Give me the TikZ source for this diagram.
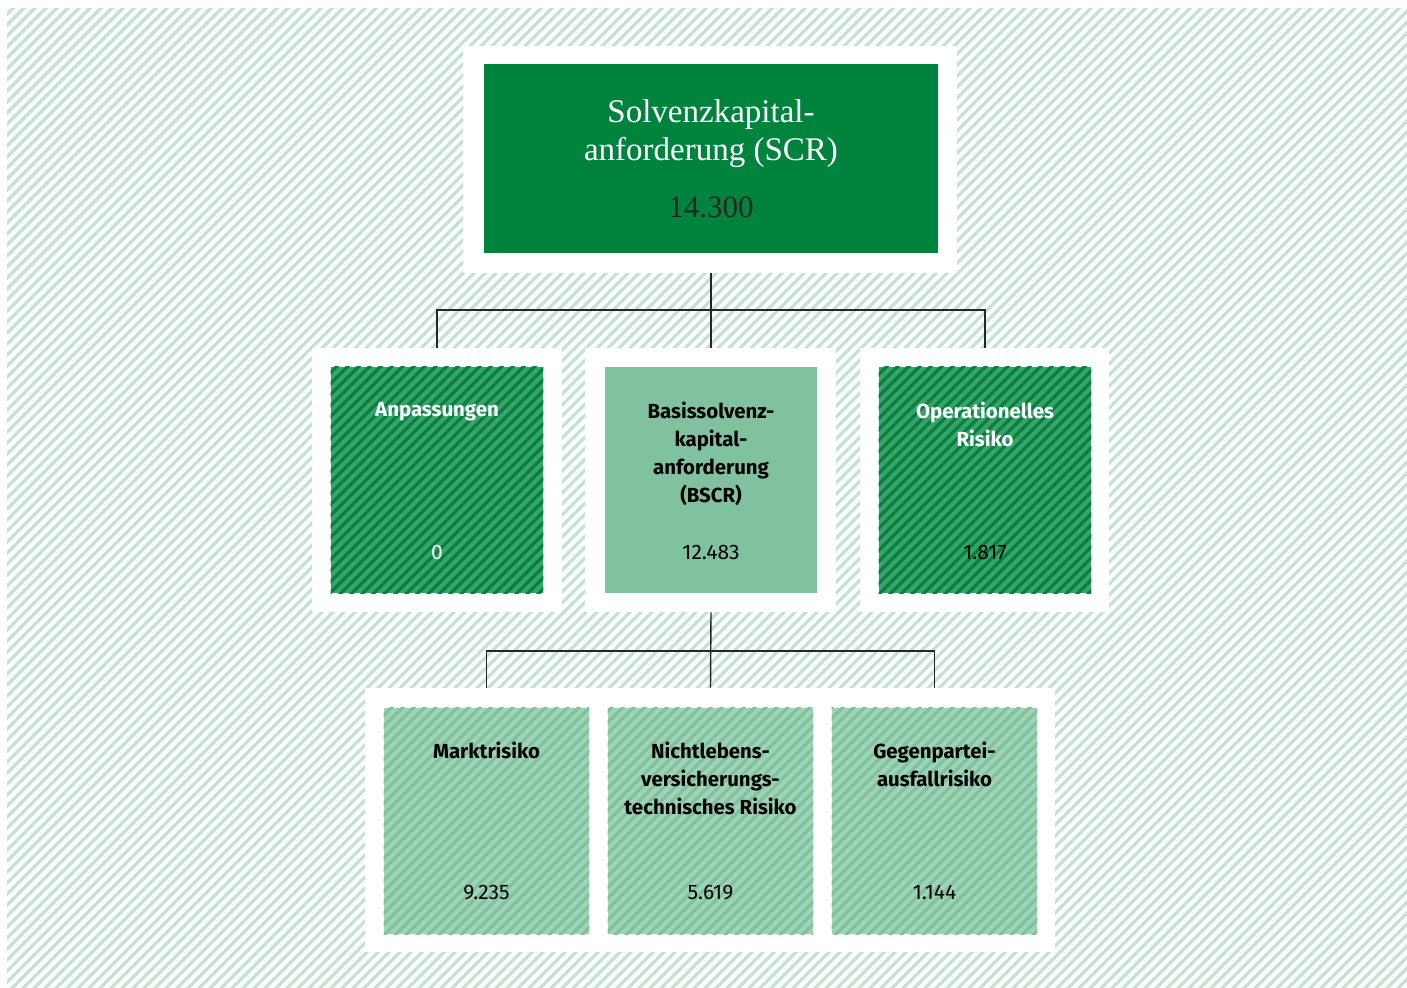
\documentclass[tikz,border=0pt]{standalone}
\usepackage{fontspec}
\setmainfont{Liberation Serif}
\setsansfont{Fira Sans}
\usepackage{tikz}
\usetikzlibrary{calc}
\usetikzlibrary{positioning}
\definecolor{dkgreen}{HTML}{00843D}
\definecolor{midgreen}{HTML}{3BA06A}
\definecolor{ltgreen}{HTML}{80C29F}
\definecolor{palegreen}{HTML}{9FD3B6}
\definecolor{bggreen}{HTML}{C3E3D1}

\begin{document}
\begin{tikzpicture}[x=0.5pt, y=-0.5pt,
    panel/.style={fill=white, inner sep=0pt},
    box/.style={inner sep=0pt, minimum width=106pt, minimum height=113pt},
    lowbox/.style={inner sep=0pt, minimum width=102.5pt, minimum height=113pt},
    boxtitle/.style={anchor=north, inner sep=0pt, align=center, font=\sffamily\bfseries\fontsize{10.2}{14}\selectfont},
    boxvalue/.style={anchor=base, inner sep=0pt, font=\sffamily\fontsize{10.5}{14}\selectfont},
    conn/.style={draw=black!85, line width=0.7pt}]
    \useasboundingbox (0,0) rectangle (1407,987);
    \begin{scope}
      \clip (7,8) rectangle (1407,987);
      \foreach \s in {-1001,-990,...,1410}
        \draw[bggreen, line width=1.6pt] (\s,1000) -- ++(1100,-1100);
    \end{scope}
    \node[panel, minimum width=247pt, minimum height=113.5pt] (PS) at (710,159.5) {};
    \node[panel, minimum width=125pt, minimum height=132pt] (PA) at (437,480) {};
    \node[panel, minimum width=125.5pt, minimum height=132pt] (PB) at (710.5,480) {};
    \node[panel, minimum width=124.5pt, minimum height=132pt] (PO) at (984.5,480) {};
    \node[panel, minimum width=345pt, minimum height=132pt] (PL) at (710,820) {};
    \node[box, fill=dkgreen, minimum width=227pt, minimum height=94.5pt] (S) at (711,158.5) {};
    \node[box, fill=midgreen] (A) at (437,480) {};
    \node[box, fill=ltgreen] (B) at (711,480) {};
    \node[box, fill=midgreen] (O) at (985,480) {};
    \node[lowbox, fill=palegreen] (M) at (486.5,821) {};
    \node[lowbox, fill=palegreen] (N) at (710.5,821) {};
    \node[lowbox, fill=palegreen] (G) at (934.5,821) {};
    \foreach \b/\c in {A/dkgreen, O/dkgreen, M/ltgreen, N/ltgreen, G/ltgreen} {
      \begin{scope}
        \clip (\b.south west) rectangle (\b.north east);
        \foreach \s in {-1001,-990,...,1410}
          \draw[\c, line width=1.6pt] (\s,1000) -- ++(1100,-1100);
      \end{scope}
    }
    \coordinate (J1) at (711,310);
    \coordinate (J2) at (711,651);
    \draw[conn] (S |- PS.south) -- (B |- PB.north);
    \draw[conn] (A |- PA.north) |- (J1) -| (O |- PO.north);
    \draw[conn] (B |- PB.south) -- (N |- PL.north);
    \draw[conn] (M |- PL.north) |- (J2) -| (G |- PL.north);
    \node[boxtitle, text=white, font=\rmfamily\fontsize{16.5}{19}\selectfont] at ($(S.north)+(0,36)$) {Solvenzkapital-\\anforderung (SCR)};
    \node[boxvalue, text=black!85, font=\rmfamily\fontsize{15.5}{19}\selectfont] at ($(S.south)+(0,-36)$) {14.300};
    \node[boxtitle, text=white] at ($(A.north)+(0,35)$) {Anpassungen};
    \node[boxvalue, text=white] at ($(A.south)+(0,-34)$) {0};
    \node[boxtitle] at ($(B.north)+(0,35)$) {Basissolvenz-\\kapital-\\anforderung\\(BSCR)};
    \node[boxvalue] at ($(B.south)+(0,-34)$) {12.483};
    \node[boxtitle, text=white] at ($(O.north)+(0,35)$) {Operationelles\\Risiko};
    \node[boxvalue] at ($(O.south)+(0,-34)$) {1.817};
    \node[boxtitle] at ($(M.north)+(0,34)$) {Marktrisiko};
    \node[boxvalue] at ($(M.south)+(0,-35)$) {9.235};
    \node[boxtitle] at ($(N.north)+(0,34)$) {Nichtlebens-\\versicherungs-\\technisches Risiko};
    \node[boxvalue] at ($(N.south)+(0,-35)$) {5.619};
    \node[boxtitle] at ($(G.north)+(0,34)$) {Gegenpartei-\\ausfallrisiko};
    \node[boxvalue] at ($(G.south)+(0,-35)$) {1.144};
\end{tikzpicture}
\end{document}
